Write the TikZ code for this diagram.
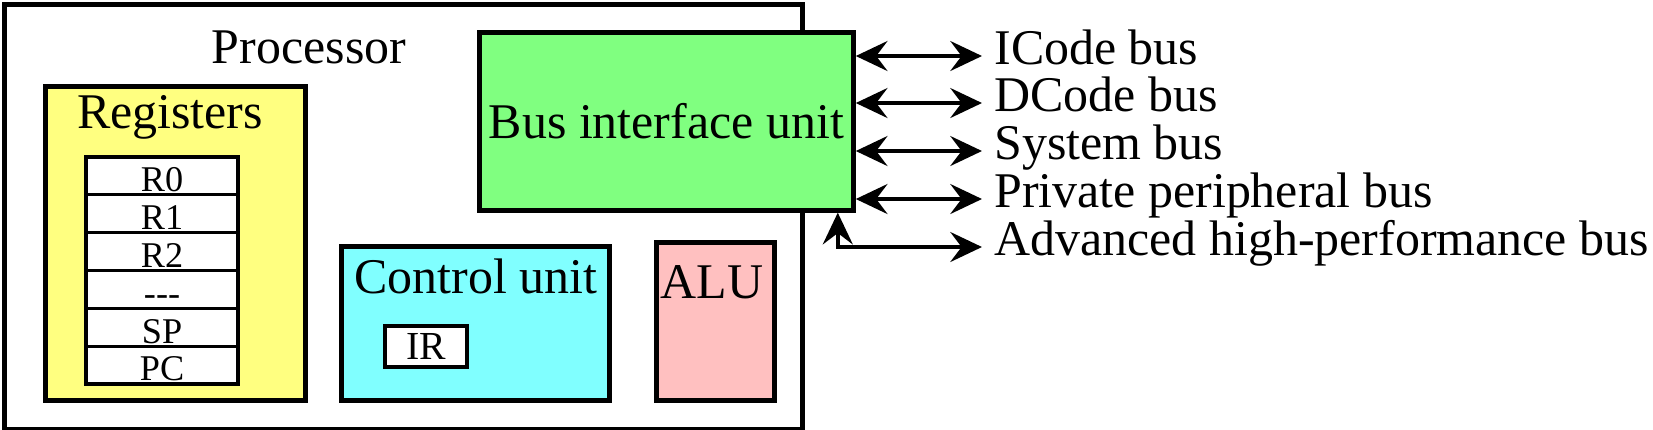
\documentclass[tikz,border=0pt]{standalone}
\usepackage{fontspec}
\setmainfont{Liberation Serif}
\usetikzlibrary{positioning,arrows.meta,calc}
\definecolor{regyellow}{RGB}{255,255,128}
\definecolor{biugreen}{RGB}{128,255,128}
\definecolor{ctrlcyan}{RGB}{128,255,255}
\definecolor{alupink}{RGB}{255,192,192}
\newcommand{\bigfont}{\fontsize{14.2}{17}\selectfont}
\newcommand{\regfont}{\fontsize{10.3}{12}\selectfont}
\newcommand{\irfont}{\fontsize{11.3}{13}\selectfont}
\tikzset{
  unitbox/.style={draw,line width=1.3pt,inner sep=0pt,anchor=north west},
  unittitle/.style={anchor=base,font=\bigfont,inner sep=0pt},
  regcell/.style={draw,fill=white,line width=0.9pt,minimum width=1.52cm,minimum height=0.378cm,
    inner sep=0pt,outer sep=0pt,text height=9pt,text depth=0pt,font=\regfont},
  buslabel/.style={anchor=mid west,font=\bigfont},
  bus/.style={<->,>={Stealth[length=9pt,width=8.5pt,inset=3.2pt]},line width=1.2pt},
}

\begin{document}
\begin{tikzpicture}[x=0.01cm,y=-0.01cm]
\useasboundingbox (0,0) rectangle (1653,429);

\node[unitbox,minimum width=7.975cm,minimum height=4.25cm] (proc) at (2.5,2) {};
\node[unittitle] (proctitle) at (309,63) {Processor};

\node[unitbox,fill=regyellow,minimum width=2.6cm,minimum height=3.14cm] (regs) at (43,84) {};
\node[unittitle] (regstitle) at (170,128) {Registers};
\node[regcell,anchor=north west] (r1) at (86,157) {R0};
\foreach \r [count=\i from 2] in {R1,R2,{-{}-{}-},SP,PC} {
  \pgfmathtruncatemacro\j{\i-1}
  \node[regcell,below=0pt of r\j] (r\i) {\r};
}
\draw[line width=1.3pt] (r1.north west) rectangle (r6.south east);

\node[unitbox,fill=biugreen,minimum width=3.74cm,minimum height=1.78cm,font=\bigfont] (biu) at (477,30) {Bus interface unit};

\node[unitbox,fill=ctrlcyan,minimum width=2.68cm,minimum height=1.54cm] (ctrl) at (339,244) {};
\node[unittitle] (ctrltitle) at (476,293) {Control unit};
\node[draw,fill=white,line width=1.3pt,minimum width=0.82cm,minimum height=0.41cm,inner sep=0pt,font=\irfont] (ir) at (426,346.5) {IR};

\node[unitbox,fill=alupink,minimum width=1.18cm,minimum height=1.58cm] (alu) at (654,240) {};
\node[unittitle] (alutitle) at (712,298) {ALU};

\node[buslabel] (icode) at (982,56) {ICode bus};
\node[buslabel] (dcode) at (982,103) {DCode bus};
\node[buslabel] (sysbus) at (982,151) {System bus};
\node[buslabel] (ppb) at (982,199) {Private peripheral bus};
\node[buslabel] (ahb) at (982,247) {Advanced high-performance bus};

\foreach \b in {icode,dcode,sysbus,ppb}
  \draw[bus] (biu.east |- \b.mid west) -- (\b.mid west);
\draw[bus] (ahb.mid west) -| ($(biu.south east)+(-18,0)$);

\end{tikzpicture}
\end{document}
